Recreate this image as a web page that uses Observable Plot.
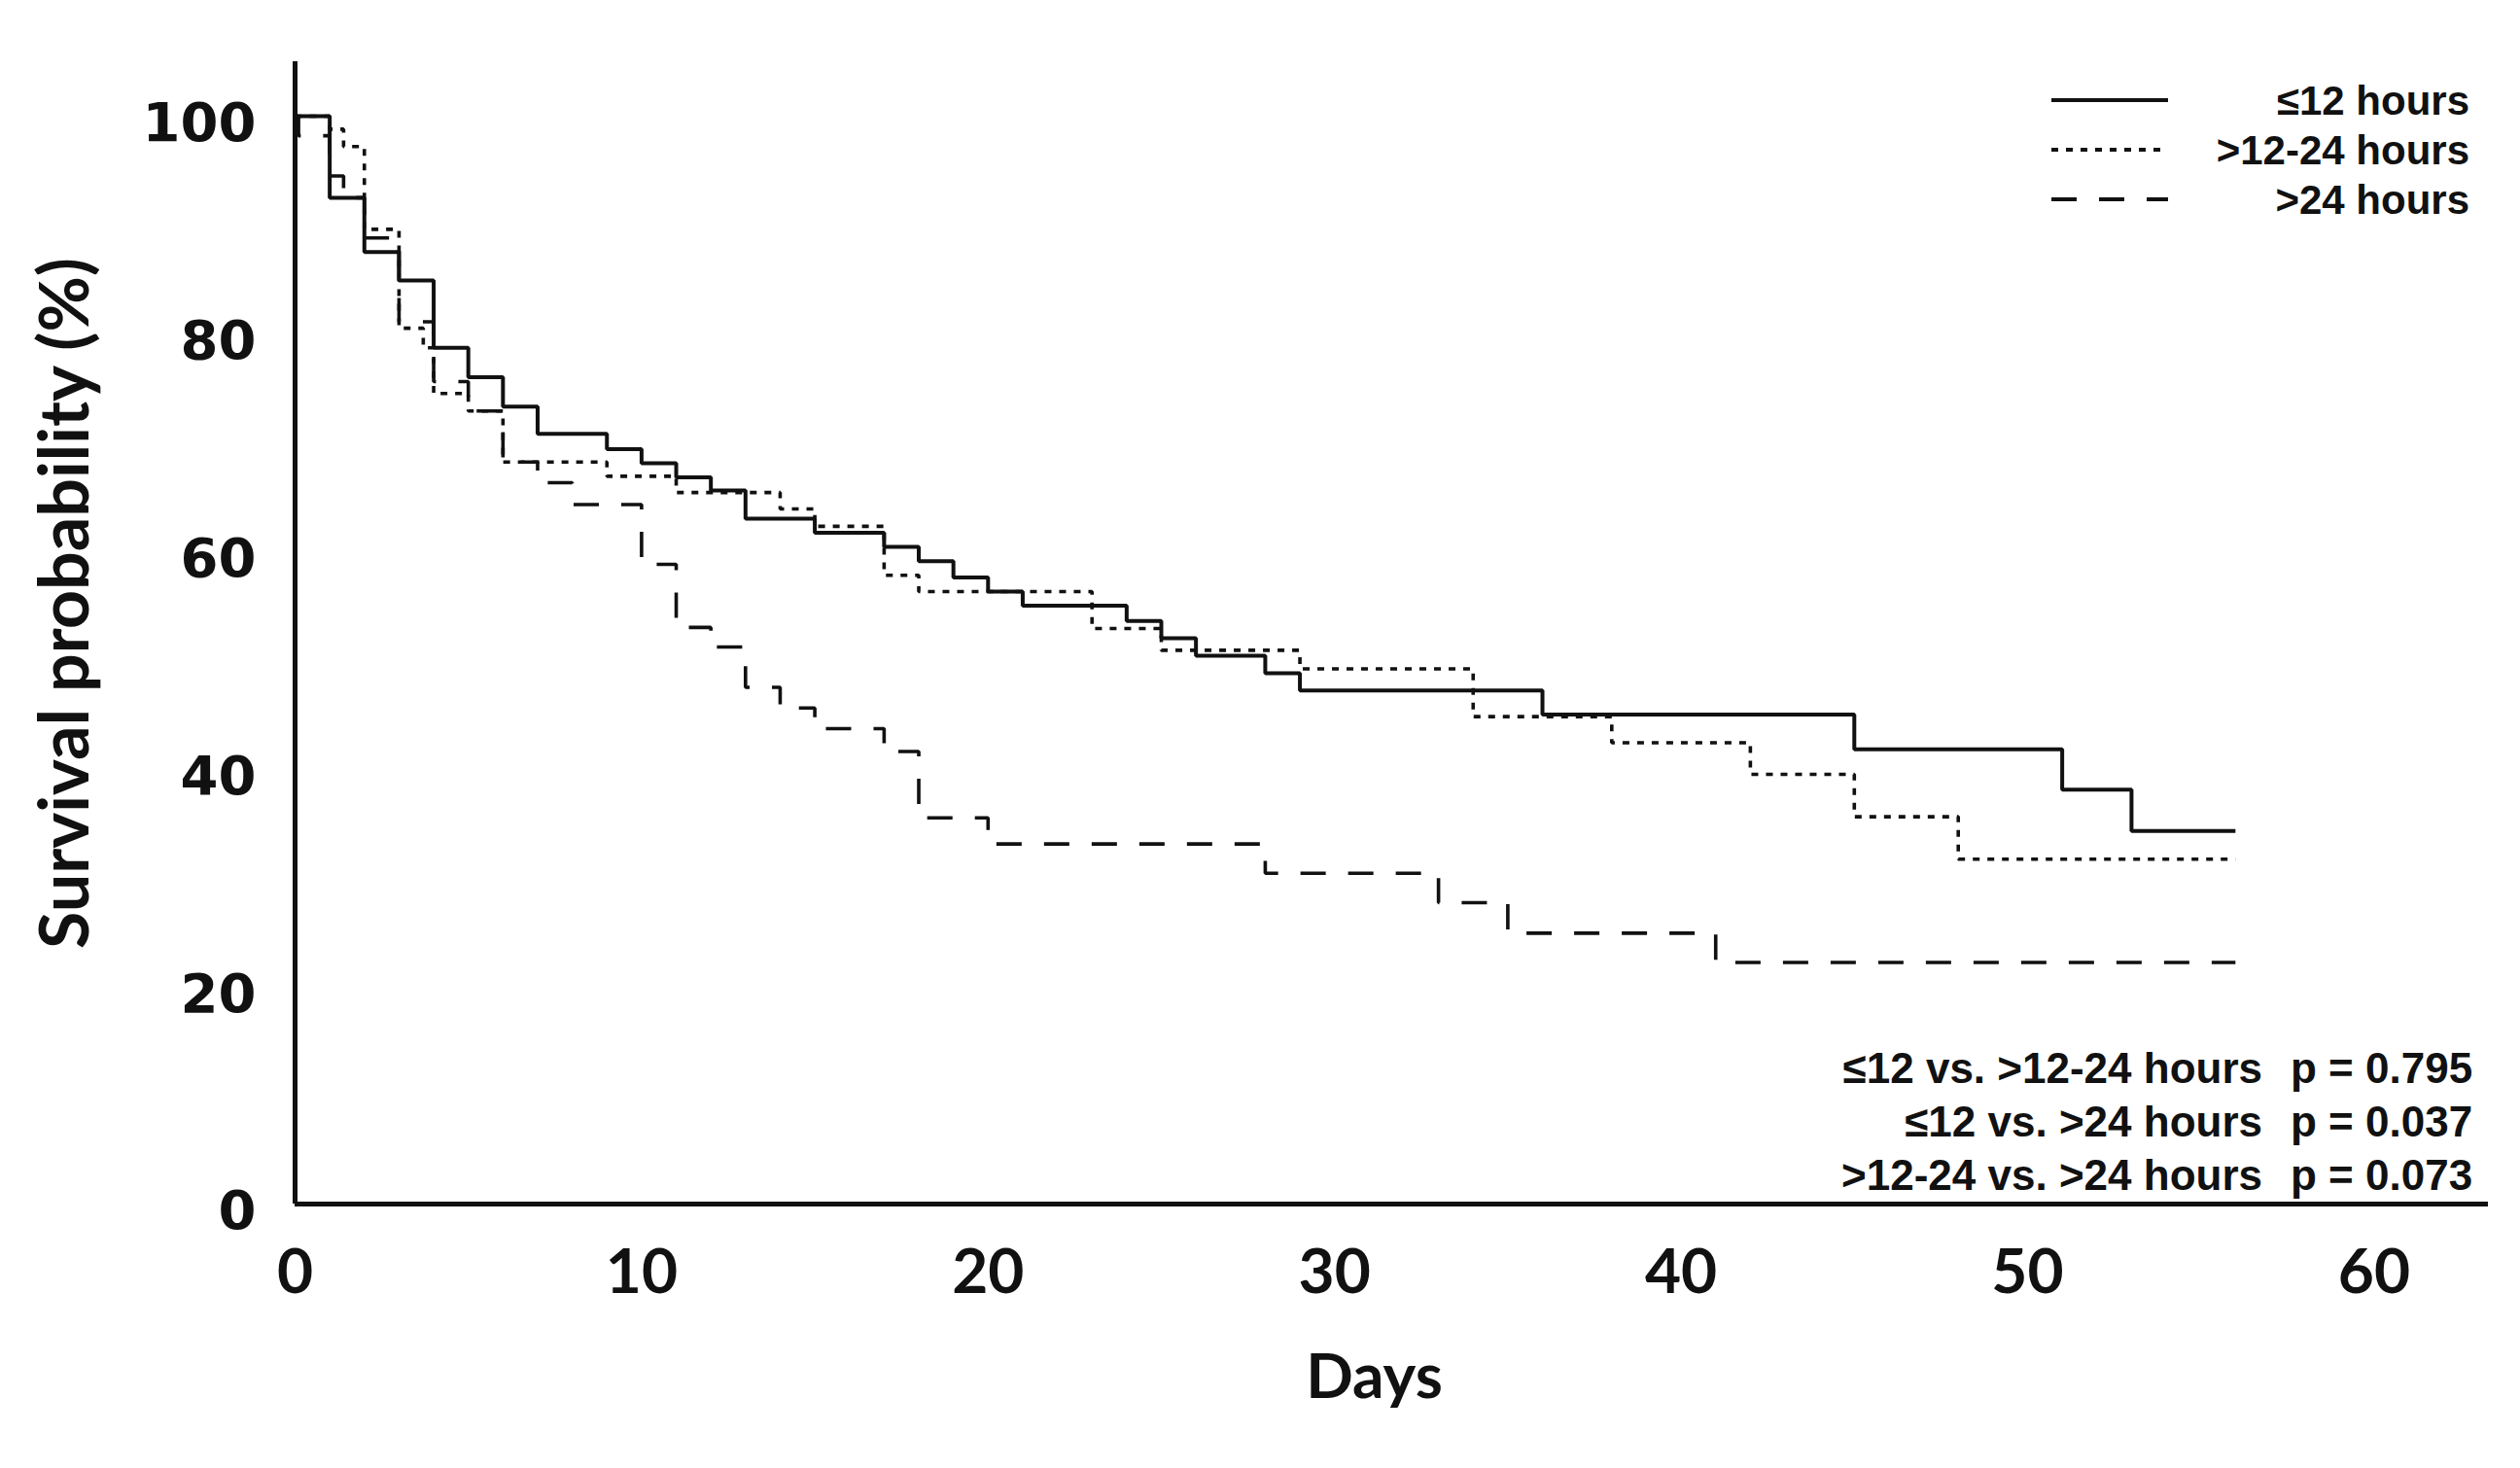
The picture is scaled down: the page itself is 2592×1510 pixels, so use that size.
<!DOCTYPE html>
<html>
<head>
<meta charset="utf-8">
<script src="https://cdn.jsdelivr.net/npm/d3@7"></script>
<script src="https://cdn.jsdelivr.net/npm/@observablehq/plot@0.6"></script>
<style>
  html, body { margin: 0; padding: 0; background: #fff; overflow: hidden; }
  #chart svg { display: block; }
</style>
</head>
<body>
<div id="chart"></div>
<script>
// ≤12 hours (solid)
const days12 = [0,1,2,3,4,5,6,7,9,10,11,12,13,15,17,18,19,20,21,24,25,26,28,29,36,45,51,53,56];
const surv12 = [100,92.5,87.5,84.9,78.7,76.0,73.3,70.8,69.4,68.1,66.8,65.6,63.0,61.7,60.4,59.1,57.6,56.3,55.0,53.6,52.0,50.4,48.8,47.2,45.0,41.8,38.1,34.3,34.3];
// >12-24 hours (dotted)
const days1224 = [0,1,1.4,2,3,3.7,4,5,6,9,11,14,15,17,18,23,25,29,34,38,42,45,48,56];
const surv1224 = [100,98.8,97.2,89.6,80.5,78.7,74.5,72.9,68.2,66.9,65.4,63.9,62.3,57.8,56.3,52.9,50.9,49.2,44.8,42.4,39.5,35.6,31.7,31.7];
// >24 hours (dashed)
const days24 = [0,0.1,1,1.4,2,3,4,5,6,7,8,10,11,12,13,14,15,17,18,20,28,33,35,41,56];
const surv24 = [100,98.2,94.5,92.5,88.8,81.1,75.6,72.9,68.2,66.3,64.3,58.8,53.0,51.2,47.5,45.6,43.7,41.6,35.5,33.1,30.4,27.7,24.9,22.2,22.2];

const seriesLabels = ["≤12 hours", ">12-24 hours", ">24 hours"];
const comparisons = ["≤12 vs. >12-24 hours", "≤12 vs. >24 hours", ">12-24 vs. >24 hours"];
const pValues = ["p = 0.795", "p = 0.037", "p = 0.073"];

const xTicks = [0,10,20,30,40,50,60];
const yTicks = [0,20,40,60,80,100];

const xLabel = "Days";
const yLabel = "Survival probability (%)";

const ink = "#111";
const dashes = [null, "7,8", "26,23"];

const toRows = (days, surv) => days.map((d, i) => ({day: d, surv: surv[i]}));
const rows12 = toRows(days12, surv12);
const rows1224 = toRows(days1224, surv1224);
const rows24 = toRows(days24, surv24);

const lineOpts = {x: "day", y: "surv", curve: "step-after", stroke: ink, strokeWidth: 4, strokeLinecap: "butt", strokeLinejoin: "miter"};

function overlay(index, scales, values, dimensions) {
  const {width, height, marginLeft, marginRight, marginTop, marginBottom} = dimensions;
  const right = width - marginRight;
  const bottom = height - marginBottom;
  const g = d3.create("svg:g").attr("fill", ink);
  const t = g.append("g")
    .attr("font-family", "'Liberation Sans', Arial, sans-serif")
    .attr("font-weight", "bold");
  seriesLabels.forEach((lab, i) => {
    const cy = marginTop + 40 + i * 51;
    const ln = t.append("line")
      .attr("x1", right - 449).attr("x2", right - 329)
      .attr("y1", cy).attr("y2", cy)
      .attr("stroke", ink).attr("stroke-width", 4);
    if (dashes[i]) ln.attr("stroke-dasharray", dashes[i]);
    t.append("text")
      .attr("x", right - 19).attr("y", cy).attr("dy", "0.36em")
      .attr("text-anchor", "end").attr("font-size", 42)
      .text(lab);
  });
  comparisons.forEach((c, i) => {
    const cy = bottom - 140 + i * 55;
    t.append("text")
      .attr("x", right - 232).attr("y", cy).attr("dy", "0.36em")
      .attr("text-anchor", "end").attr("font-size", 44)
      .text(c);
    t.append("text")
      .attr("x", right - 203).attr("y", cy).attr("dy", "0.36em")
      .attr("text-anchor", "start").attr("font-size", 44)
      .text(pValues[i]);
  });
  // y-axis title
  g.append("text")
    .attr("transform", `translate(${marginLeft - 237},${(marginTop + bottom) / 2 - 30}) rotate(-90)`)
    .attr("text-anchor", "middle").attr("dy", "0.36em")
    .attr("font-family", "Lato, sans-serif").attr("font-weight", "bold").attr("font-size", 70)
    .text(yLabel);
  return g.node();
}

const chart = Plot.plot({
  width: 2592,
  height: 1510,
  marginLeft: 303,
  marginRight: 33,
  marginTop: 63,
  marginBottom: 272,
  x: {domain: [0, 63.3]},
  y: {domain: [0, 105]},
  style: {background: "#fff", color: ink, overflow: "visible"},
  marks: [
    Plot.axisY({ticks: yTicks, tickSize: 0, tickPadding: 40, label: null, dy: 8,
      fontSize: 56, fontFamily: "DejaVu Sans", fontWeight: "bold", fill: ink}),
    Plot.axisX({ticks: xTicks, tickSize: 0, tickPadding: 46, label: null,
      fontSize: 64, fontFamily: "Lato", fontWeight: "bold", fill: ink}),
    Plot.text([xLabel], {text: d => d, frameAnchor: "bottom", dx: -18, dy: 199,
      fontSize: 64, fontFamily: "Lato", fontWeight: "bold", fill: ink}),
    Plot.line(rows24, {...lineOpts, strokeWidth: 3.6, strokeDasharray: dashes[2]}),
    Plot.line(rows1224, {...lineOpts, strokeWidth: 3.6, strokeDasharray: dashes[1]}),
    Plot.line(rows12, lineOpts),
    Plot.ruleX([0], {stroke: ink, strokeWidth: 5}),
    Plot.ruleY([0], {stroke: ink, strokeWidth: 5}),
    overlay
  ]
});
document.getElementById("chart").append(chart);
</script>
</body>
</html>
